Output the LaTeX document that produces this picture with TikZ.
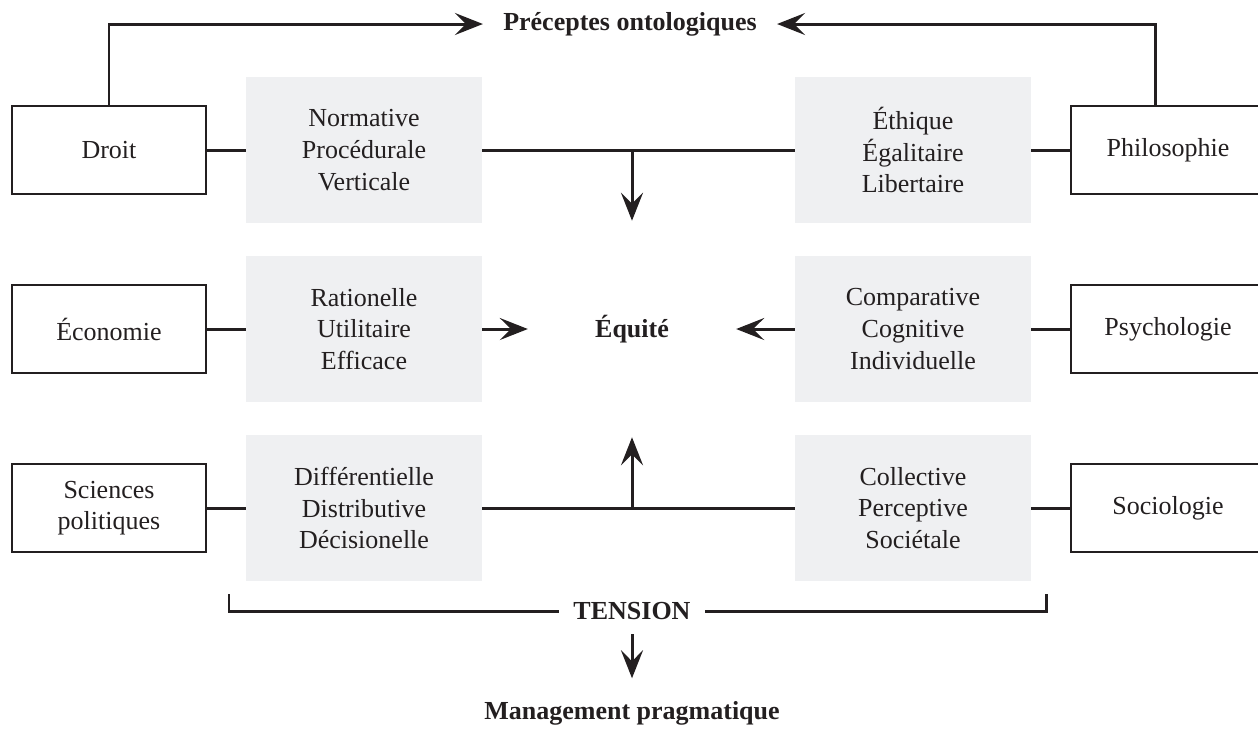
\documentclass[tikz,border=0pt]{standalone}
\usepackage{fontspec}
\setmainfont{Liberation Serif}
\usepackage{tikz}
\usetikzlibrary{arrows.meta}

\definecolor{boxgrey}{RGB}{239,240,242}
\definecolor{ink}{RGB}{35,31,32}

\tikzset{
  field/.style={draw=ink, line width=1.4pt, minimum width=3.88cm, minimum height=1.76cm, align=center, inner sep=0pt},
  facet/.style={fill=boxgrey, minimum width=4.72cm, minimum height=2.94cm, align=center, inner sep=0pt},
  head/.style={font=\fontsize{14.8}{18}\selectfont\bfseries},
  link/.style={draw=ink, line width=1.7pt},
  arr/.style={link, -{Stealth[length=5.6mm,width=4.4mm,inset=2.2mm]}},
}

\begin{document}
\begin{tikzpicture}[x=0.02cm, y=-0.02cm, font=\fontsize{14.8}{18}\selectfont, text=ink]
      \clip (0,0) rectangle (1258,728);
      % disciplines
      \node[field] at (109,150) (droit){Droit};
      \node[field] at (109,329) (eco){Économie};
      \node[field] at (109,508) (scpo){Sciences\\politiques};
      \node[field] at (1168,150) (phil){Philosophie};
      \node[field] at (1168,329) (psy){Psychologie};
      \node[field] at (1168,508) (socio){Sociologie};
      % facets
      \node[facet] at (364,150) (norm){Normative\\Procédurale\\Verticale};
      \node[facet] at (364,329) (rati){Rationelle\\Utilitaire\\Efficace};
      \node[facet] at (364,508) (diff){Différentielle\\Distributive\\Décisionelle};
      \node[facet] at (913,150) (ethi){Éthique\\Égalitaire\\Libertaire};
      \node[facet] at (913,329) (comp){Comparative\\Cognitive\\Individuelle};
      \node[facet] at (913,508) (coll){Collective\\Perceptive\\Sociétale};
      % labels
      \node[head, inner sep=0.4cm] at (630,24) (precepts){Préceptes ontologiques};
      \node[head, inner xsep=1.34cm, inner ysep=1.88cm] at (632,329) (equite){Équité};
      \node[head, inner sep=0.28cm] at (632,611) (tension){TENSION};
      \node[head, inner ysep=0.45cm] at (632,713) (mgmt){Management pragmatique};
      \coordinate (bl) at (229,594);
      \coordinate (br) at (1046,594);

      \draw[link] (droit) -- (norm);
      \draw[link] (norm) -- (ethi);
      \draw[link] (ethi) -- (phil);
      \draw[link] (eco) -- (rati);
      \draw[link] (comp) -- (psy);
      \draw[link] (scpo) -- (diff);
      \draw[link] (diff) -- (coll);
      \draw[link] (coll) -- (socio);
      \draw[arr] (droit.north) |- (precepts.west);
      \draw[arr] ([xshift=-0.26cm]phil.north) |- (precepts.east);
      \draw[arr] (norm.east -| equite) -- (equite);
      \draw[arr] (diff.east -| equite) -- (equite);
      \draw[arr] (rati) -- (equite);
      \draw[arr] (comp) -- (equite);
      \draw[link] (bl) |- (tension.west);
      \draw[link] (br) |- (tension.east);
      \draw[arr] (tension.south) -- (mgmt.north);
    \end{tikzpicture}
\end{document}
